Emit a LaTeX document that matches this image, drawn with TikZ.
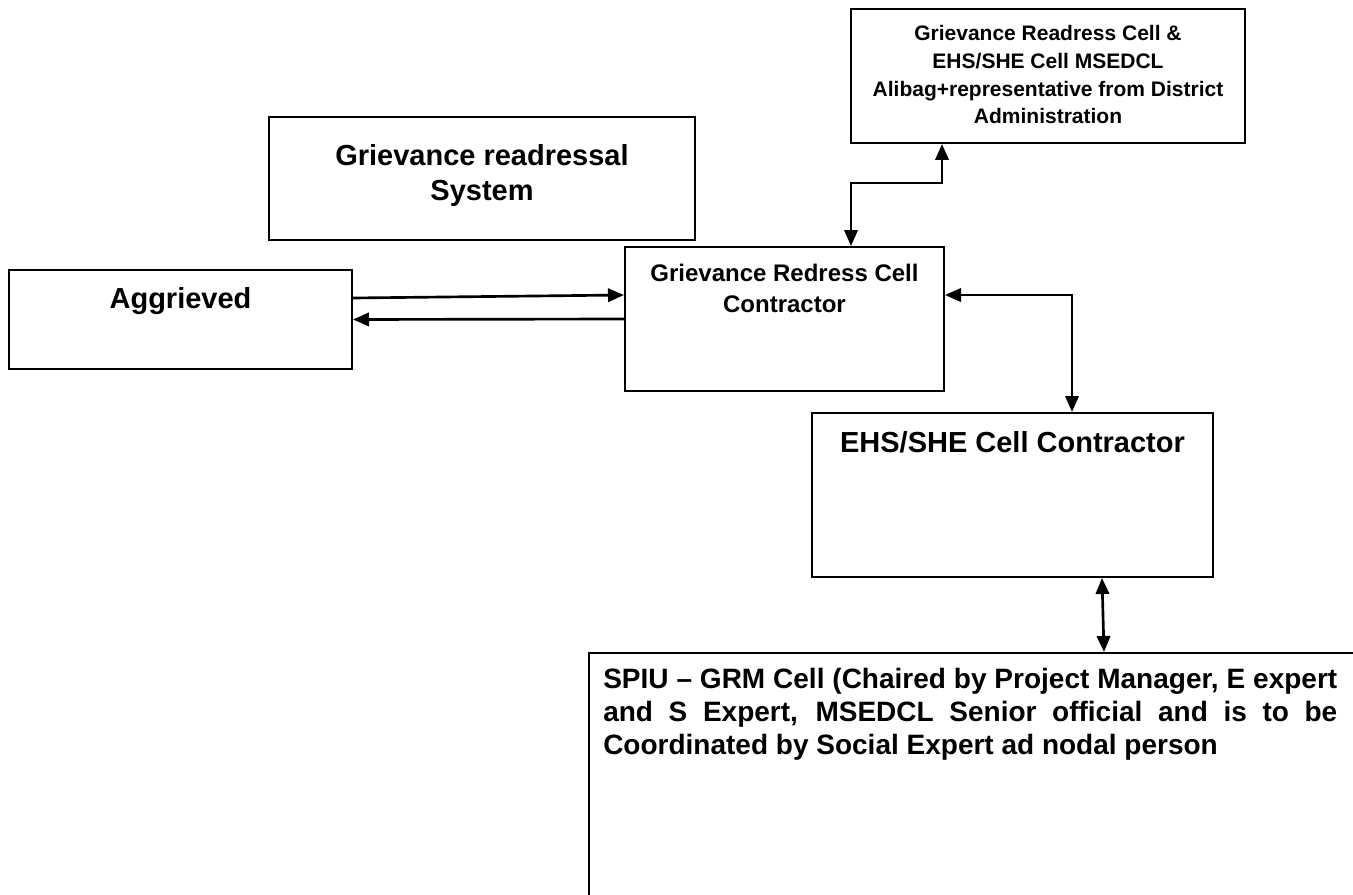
\documentclass[tikz,border=0pt]{standalone}
\usepackage{fontspec}
\setmainfont{Liberation Sans}
\usetikzlibrary{arrows.meta,positioning,calc}

\begin{document}
\begin{tikzpicture}[x=0.75pt, y=-0.75pt,
  box/.style={draw, line width=1.5pt, inner sep=0pt},
  conn/.style={line width=2pt, -{Triangle[length=12pt,width=10pt]}},
  dconn/.style={line width=2pt, {Triangle[length=12pt,width=10pt]}-{Triangle[length=12pt,width=10pt]}},
  big/.style={font=\fontsize{21.75}{26.25}\selectfont\bfseries, align=center, anchor=base, inner sep=0pt},
  mid/.style={font=\fontsize{18}{23.25}\selectfont\bfseries, align=center, anchor=base, inner sep=0pt},
  small/.style={font=\fontsize{15.75}{20.8}\selectfont\bfseries, align=center, anchor=base, inner sep=0pt}]
  \useasboundingbox (0,0) rectangle (1353,895);
  \clip (0,0) rectangle (1353,895);

  % boxes
  \node[box, minimum width=295.5pt, minimum height=100.5pt] (msedcl) at (1048,76) {};
  \node[box, minimum width=319.5pt, minimum height=92.25pt] (sys) at (482,178.5) {};
  \node[box, minimum width=257.25pt, minimum height=74.25pt] (agg) at (180.5,319.5) {};
  \node[box, minimum width=239.25pt, minimum height=108pt] (grc) at (784.5,319) {};
  \node[box, minimum width=300.75pt, minimum height=123pt] (ehs) at (1012.5,495) {};
  \node[box, anchor=north west, minimum width=600pt, minimum height=195pt] (spiu) at (588,652) {};

  % texts (base = last line)
  \node[small] (msedcltxt) at (1048,124) {Grievance Readress Cell \&\\EHS/SHE Cell MSEDCL\\Alibag+representative from District\\Administration};
  \node[big] (systxt) at (482,200) {Grievance readressal\\System};
  \node[big] (aggtxt) at (180.5,308) {Aggrieved};
  \node[mid] (grctxt) at (784.5,312) {Grievance Redress Cell\\Contractor};
  \node[big] (ehstxt) at (1012.5,452) {EHS/SHE Cell Contractor};
  \node[anchor=base west, align=left, inner sep=0pt, font=\fontsize{21}{24.75}\selectfont\bfseries] (spiutxt) at (603,754)
    {\makebox[550.5pt][s]{SPIU – GRM Cell (Chaired by Project Manager, E expert}\\
     \makebox[550.5pt][s]{and S Expert, MSEDCL Senior official and is to be}\\
     Coordinated by Social Expert ad nodal person};

  % arrows
  \draw[conn] ($(agg.east)+(0,-21.5)$) -- ($(grc.west)+(0,-24)$);
  \draw[conn] (grc.west) -- (agg.east);
  \draw[dconn] ($(grc.north west)+(227,0)$) |- ($(msedcl.south west)+(92,39)$) -- ($(msedcl.south west)+(92,0)$);
  \draw[dconn] ($(grc.east)+(0,-24)$) -| ($(ehs.north)+(59.5,0)$);
  \draw[dconn] ($(ehs.south)+(89.5,0)$) -- ($(spiu.north west)+(516,0)$);
\end{tikzpicture}
\end{document}
